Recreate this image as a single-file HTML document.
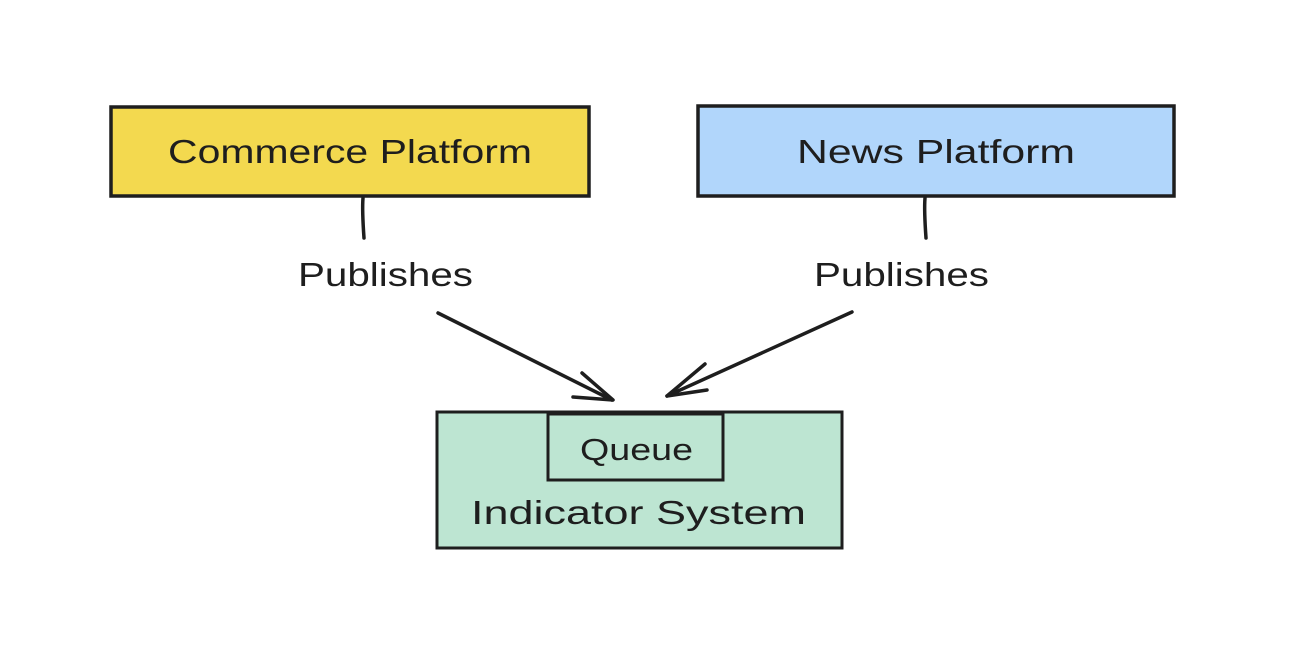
<!DOCTYPE html>
<html><head><meta charset="utf-8"><style>
html,body{margin:0;padding:0;background:#fff;}
svg{display:block}
text{font-family:"Liberation Sans",sans-serif;fill:#1e1e1e;}
</style></head><body>
<svg width="1292" height="646" viewBox="0 0 1292 646" xmlns="http://www.w3.org/2000/svg">
<rect x="0" y="0" width="1292" height="646" fill="#fff"/>
<rect x="111" y="107" width="478" height="89" fill="#f3d94f" stroke="#1e1e1e" stroke-width="3.5"/>
<text x="168" y="163" font-size="33" textLength="364" lengthAdjust="spacingAndGlyphs">Commerce Platform</text>
<rect x="698" y="106" width="476" height="90" fill="#b1d6fb" stroke="#1e1e1e" stroke-width="3.5"/>
<text x="797" y="163" font-size="33" textLength="278" lengthAdjust="spacingAndGlyphs">News Platform</text>
<rect x="437" y="412" width="405" height="136" fill="#bde5d2" stroke="#1e1e1e" stroke-width="3"/>
<rect x="548" y="414" width="175" height="66" fill="#bde5d2" stroke="#1e1e1e" stroke-width="3"/>
<text x="580" y="460" font-size="31" textLength="113" lengthAdjust="spacingAndGlyphs">Queue</text>
<text x="471" y="524" font-size="33" textLength="335" lengthAdjust="spacingAndGlyphs">Indicator System</text>
<g stroke="#1e1e1e" stroke-width="3.5" fill="none" stroke-linecap="round" stroke-linejoin="round">
<path d="M363 198 Q362 210 364 238"/>
<path d="M925 198 Q924 210 926 238"/>
<path d="M438 313 L612 400"/>
<path d="M582 373 L613 400 L573 397"/>
<path d="M852 312 L667 396"/>
<path d="M705 364 L667 396 L707 390"/>
</g>
<text x="298" y="286" font-size="33" textLength="175" lengthAdjust="spacingAndGlyphs">Publishes</text>
<text x="814" y="286" font-size="33" textLength="175" lengthAdjust="spacingAndGlyphs">Publishes</text>
</svg>
</body></html>
